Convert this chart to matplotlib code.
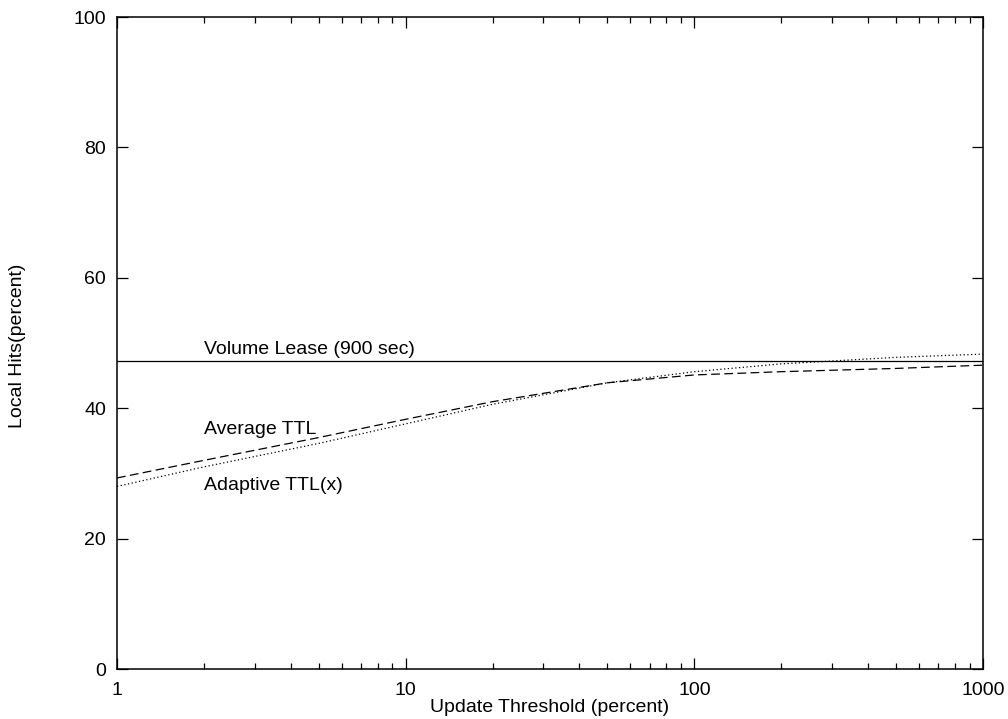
import matplotlib
matplotlib.use("Agg")
import matplotlib.pyplot as plt
from matplotlib.ticker import LogLocator, FixedLocator, NullFormatter

plt.rcParams['font.family'] = ['Liberation Sans', 'DejaVu Sans']

threshold = [1, 2, 5, 10, 20, 50, 100, 200, 500, 1000]
volume_lease = [47.3] * len(threshold)
average_ttl = [29.3, 32.0, 35.5, 38.3, 41.0, 43.9, 45.1, 45.6, 46.1, 46.6]
adaptive_ttl = [28.0, 31.0, 34.6, 37.6, 40.6, 43.9, 45.6, 46.8, 47.8, 48.3]

xticks = [1, 10, 100, 1000]
xtick_labels = ['1', '10', '100', '1000']
yticks = [0, 20, 40, 60, 80, 100]

fig = plt.figure(figsize=(10.08, 7.19), dpi=100)
ax = fig.add_axes([117/1008, 1-669/719, (983-117)/1008, (669-17)/719])

ax.plot(threshold, volume_lease, color='black', lw=0.9, ls='-')
ax.plot(threshold, average_ttl, color='black', lw=0.9, ls=(0, (7, 3.5)))
ax.plot(threshold, adaptive_ttl, color='black', lw=0.9, ls=(0, (1, 2)))

ax.set_xscale('log')
ax.set_xlim(1, 1000)
ax.set_ylim(0, 100)
ax.xaxis.set_major_locator(FixedLocator(xticks))
ax.set_xticklabels(xtick_labels)
ax.xaxis.set_minor_locator(LogLocator(base=10, subs=range(2, 10)))
ax.xaxis.set_minor_formatter(NullFormatter())
ax.set_yticks(yticks)
ax.set_yticklabels([str(v) for v in yticks])

ax.tick_params(which='both', direction='in', top=True, right=True, labelsize=14, width=0.9)
ax.tick_params(axis='x', which='major', pad=9.5)
ax.tick_params(axis='y', which='major', pad=8)
ax.tick_params(which='major', length=8)
ax.tick_params(which='minor', length=4)
for s in ax.spines.values():
    s.set_linewidth(1.1)

ax.text(2, 49.0, 'Volume Lease (900 sec)', fontsize=14, va='center', ha='left')
ax.text(2, 36.7, 'Average TTL', fontsize=14, va='center', ha='left')
ax.text(2, 28.1, 'Adaptive TTL(x)', fontsize=14, va='center', ha='left')

ax.set_xlabel('Update Threshold (percent)', fontsize=14)
ax.set_ylabel('Local Hits(percent)', fontsize=14)
ax.xaxis.set_label_coords(0.5, (669 - 707) / 652, transform=ax.transAxes)
ax.xaxis.label.set_va('center')
ax.yaxis.set_label_coords((17.5 - 117) / 866, 0.5 + (343 - 346) / 652, transform=ax.transAxes)
ax.yaxis.label.set_va('center')

fig.savefig('out.png', dpi=100)
